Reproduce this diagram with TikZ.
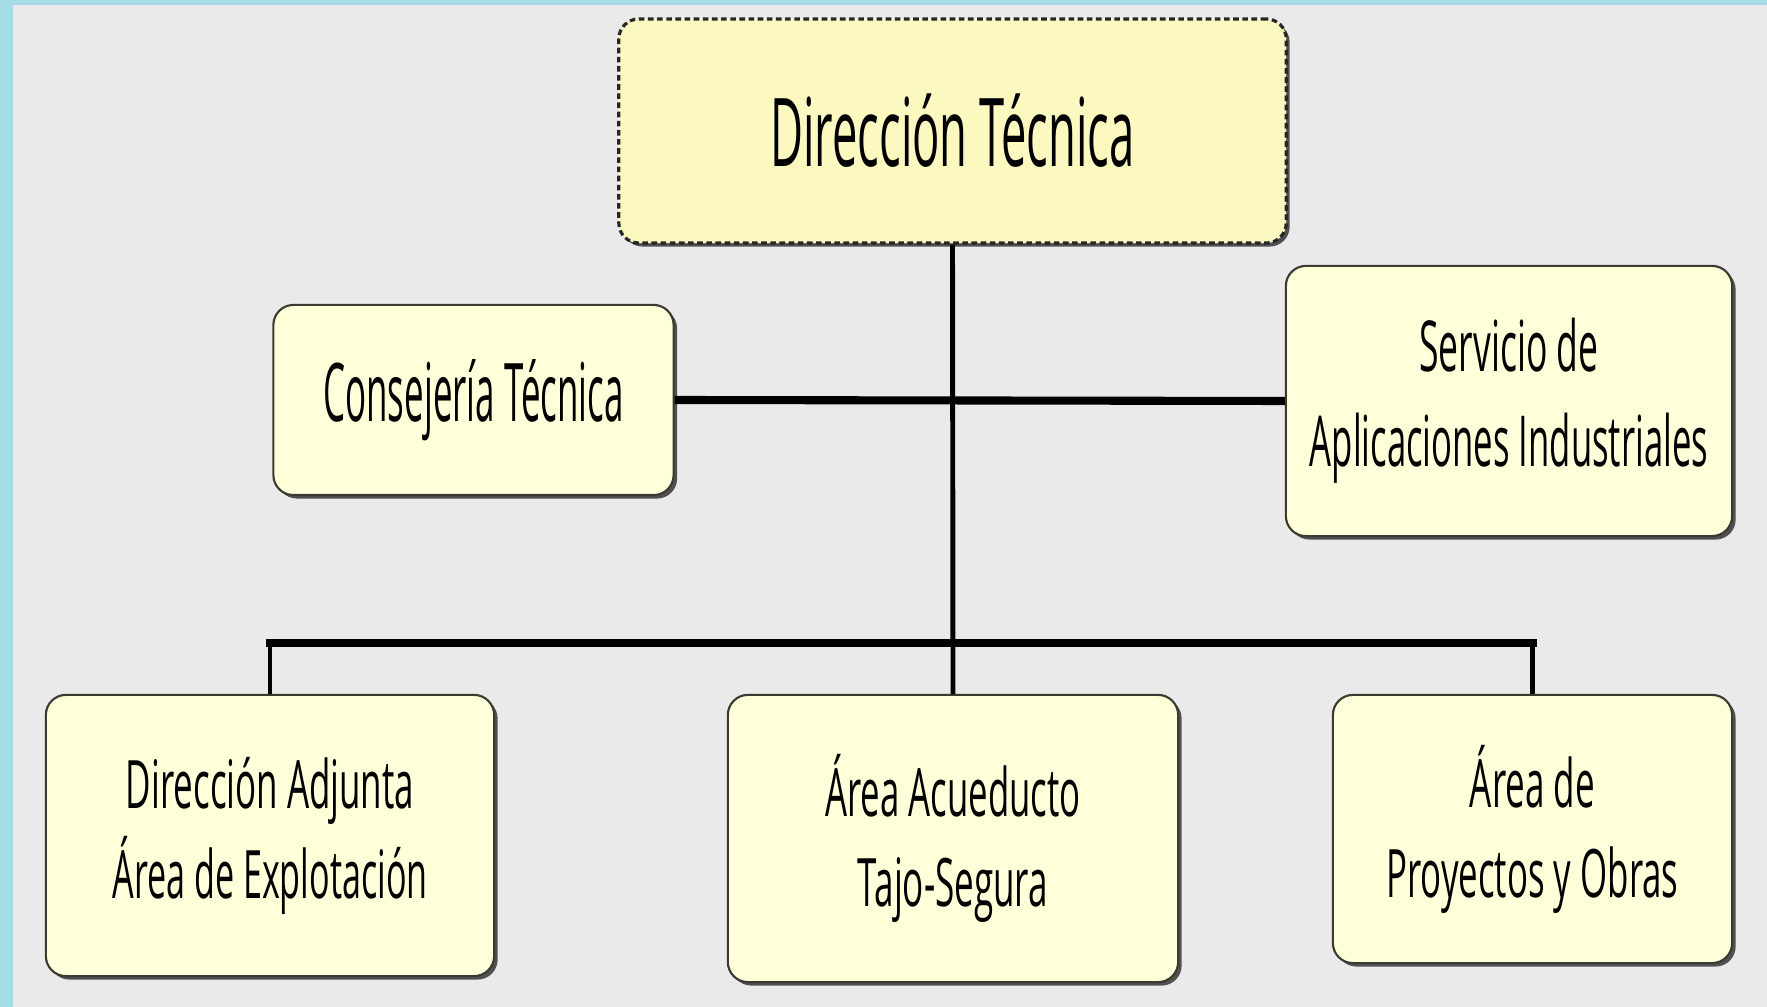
\documentclass[tikz,border=0pt]{standalone}
\usepackage{fontspec}
\setmainfont{Open Sans}
\usetikzlibrary{shadows}
\definecolor{bgcyan}{HTML}{A6DCE6}
\definecolor{bggray}{HTML}{EAEAEA}
\definecolor{topfill}{HTML}{FBF8C0}
\definecolor{boxfill}{HTML}{FFFFDA}
\definecolor{boxline}{HTML}{3A3A30}
\newcommand\fitw[2]{\resizebox{#1}{\height}{#2}}
\begin{document}
\begin{tikzpicture}[x=0.01cm,y=-0.01cm,
  orgbox/.style={draw=boxline, line width=0.6pt, fill=boxfill, rounded corners=0.2cm,
    inner sep=0pt, align=center,
    drop shadow={shadow xshift=0.035cm, shadow yshift=-0.035cm, fill=black!75, opacity=0.9}},
  topbox/.style={orgbox, fill=topfill, draw=black!85, line width=0.9pt, dash pattern=on 1.6pt off 1pt},
  smalltext/.style={font=\fontsize{19}{25.6}\selectfont},
  trunkline/.style={line width=1.4pt, black},
  linkline/.style={line width=2.3pt, black},
  busline/.style={line width=2.3pt, black, line cap=rect},
  dropline/.style={line width=1.3pt, black}]
\useasboundingbox (0,0) rectangle (1767,1007);
\fill[bgcyan] (0,0) rectangle (1767,1007);
\fill[bggray] (13,5) rectangle (1767,1007);

\node[topbox, minimum width=6.67cm, minimum height=2.24cm,
  font=\fontsize{27}{32}\selectfont] (top) at (952.5,131)
  {\fitw{3.64cm}{Dirección Técnica}};
\node[orgbox, minimum width=4.00cm, minimum height=1.90cm,
  font=\fontsize{23}{28}\selectfont] (cons) at (473.5,400)
  {\fitw{3.00cm}{Consejería Técnica}};
\node[orgbox, minimum width=4.46cm, minimum height=2.70cm,
  font=\fontsize{20}{27}\selectfont] (serv) at (1509,401)
  {\fitw{1.79cm}{Servicio de}\\\fitw{3.98cm}{Aplicaciones Industriales}};
\node[orgbox, smalltext, minimum width=4.48cm, minimum height=2.81cm] (da) at (270,835.5)
  {\fitw{2.88cm}{Dirección Adjunta}\\\fitw{3.15cm}{Área de Explotación}};
\node[orgbox, smalltext, minimum width=4.50cm, minimum height=2.87cm] (aa) at (953,838.5)
  {\fitw{2.55cm}{Área Acueducto}\\\fitw{1.90cm}{Tajo-Segura}};
\node[orgbox, smalltext, minimum width=3.99cm, minimum height=2.68cm] (ap) at (1532.5,829)
  {\fitw{1.25cm}{Área de}\\\fitw{2.92cm}{Proyectos y Obras}};

\coordinate (bus) at (953,643);
\draw[trunkline] (top.south) -- (aa.north);
\draw[linkline] (cons.east) -- (serv.west);
\draw[busline] (da.north |- bus) -- (ap.north |- bus);
\draw[dropline] (da.north |- bus) -- (da.north);
\draw[dropline] (ap.north |- bus) -- (ap.north);
\end{tikzpicture}
\end{document}
